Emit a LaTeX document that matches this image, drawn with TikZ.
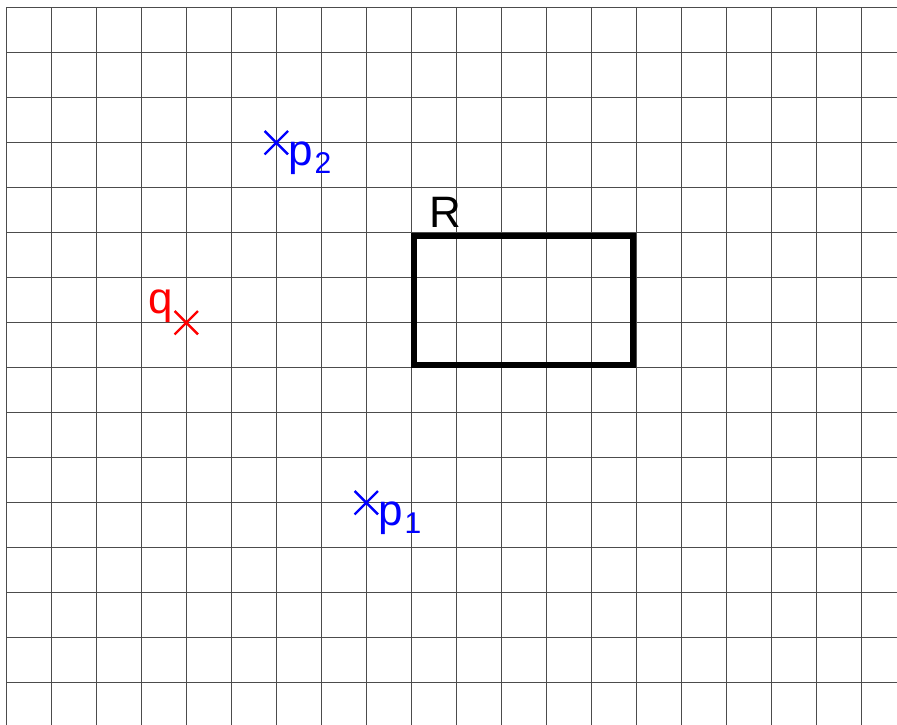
\documentclass[tikz,border=0pt]{standalone}
\usepackage{fontspec}
\setmainfont{Liberation Sans}
\usetikzlibrary{shapes.misc}
\tikzset{
  gridline/.style={draw=black!70, line width=0.9pt},
  xmark/.style={cross out, draw, minimum size=21pt, inner sep=0pt, line width=2.4pt},
  lbl/.style={anchor=base west, inner sep=0pt, font=\fontsize{44}{48}\selectfont},
  rbox/.style={draw=black, line width=6pt, minimum width=219pt, minimum height=129pt, inner sep=0pt}
}
\newcommand{\subdig}[1]{\kern1.5pt\raisebox{-8pt}{\fontsize{30}{32}\selectfont #1}}
\begin{document}
\begin{tikzpicture}[x=1pt,y=-1pt]
\useasboundingbox (0,0) rectangle (897,725);
\fill[white] (0,0) rectangle (897,725);
\foreach \k in {0,...,19} \draw[gridline] (6.3+45*\k,7.7) -- (6.3+45*\k,725);
\foreach \k in {0,...,15} \draw[gridline] (6.3,7.7+45*\k) -- (897,7.7+45*\k);
\node[rbox] (R) at (523.5,300.5) {};
\node[lbl] (Rl) at (429,227) {R};
\node[xmark, draw=blue] (p2) at (276.3,142.7) {};
\node[lbl, text=blue] (p2l) at (288.5,165) {p\subdig{2}};
\node[xmark, draw=blue] (p1) at (366.3,502.7) {};
\node[lbl, text=blue] (p1l) at (378.5,525) {p\subdig{1}};
\node[xmark, draw=red] (q) at (186.3,322.7) {};
\node[lbl, text=red, anchor=base east] (ql) at (173,313) {q};
\end{tikzpicture}
\end{document}
